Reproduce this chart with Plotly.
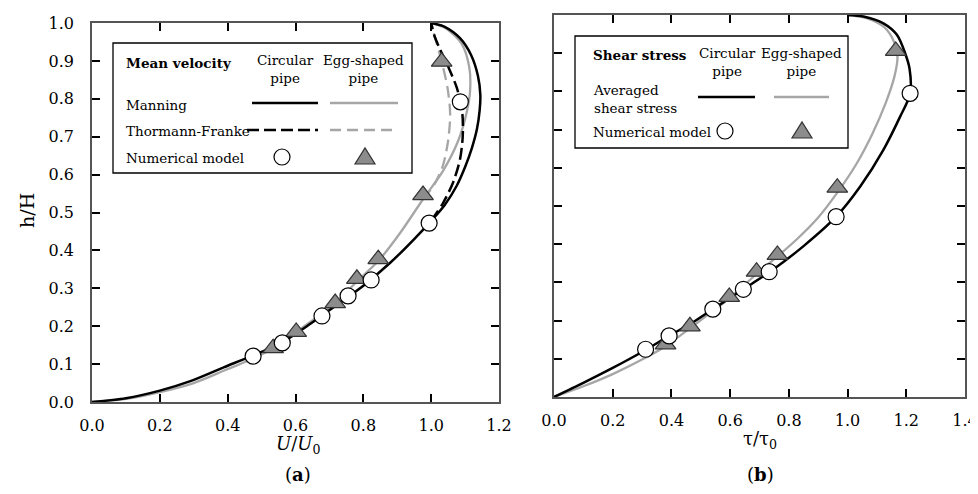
import plotly.graph_objects as go

# ---------------- data ----------------
# Panel (a): mean velocity  U/U0 (x) vs h/H (y)
a_manning_circ_x = [0.000, 0.100, 0.200, 0.290, 0.390, 0.475, 0.560, 0.645, 0.720, 0.800, 0.880, 0.950,
                    1.000, 1.040, 1.075, 1.100, 1.120, 1.135, 1.143, 1.145, 1.138, 1.118, 1.085, 1.040, 1.000]
a_manning_circ_y = [0.000, 0.010, 0.030, 0.055, 0.092, 0.123, 0.157, 0.207, 0.255, 0.307, 0.368, 0.430,
                    0.478, 0.520, 0.570, 0.620, 0.670, 0.720, 0.770, 0.810, 0.860, 0.915, 0.960, 0.990, 1.000]
a_tf_circ_x = [1.000, 1.035, 1.065, 1.085, 1.093, 1.092, 1.076, 1.050, 1.027, 1.010, 1.003, 1.000]
a_tf_circ_y = [0.478, 0.525, 0.580, 0.640, 0.700, 0.760, 0.828, 0.885, 0.929, 0.965, 0.989, 1.000]
a_manning_egg_x = [0.000, 0.100, 0.200, 0.300, 0.390, 0.470, 0.534, 0.602, 0.660, 0.717, 0.781, 0.844,
                   0.910, 0.976, 1.035, 1.080, 1.105, 1.115, 1.112, 1.090, 1.045, 1.000]
a_manning_egg_y = [0.000, 0.008, 0.026, 0.050, 0.083, 0.113, 0.142, 0.185, 0.222, 0.261, 0.318, 0.372,
                   0.448, 0.535, 0.610, 0.690, 0.765, 0.825, 0.885, 0.945, 0.985, 1.000]
a_tf_egg_x = [0.976, 1.010, 1.035, 1.050, 1.056, 1.048, 1.031, 1.015, 1.004, 1.000]
a_tf_egg_y = [0.535, 0.575, 0.625, 0.690, 0.760, 0.830, 0.898, 0.950, 0.985, 1.000]
a_num_circ_x = [0.475, 0.561, 0.678, 0.755, 0.823, 0.994, 1.086]
a_num_circ_y = [0.121, 0.156, 0.227, 0.280, 0.322, 0.472, 0.792]
a_num_egg_x = [0.534, 0.602, 0.717, 0.781, 0.844, 0.976, 1.031]
a_num_egg_y = [0.142, 0.185, 0.261, 0.325, 0.377, 0.546, 0.898]

# Panel (b): shear stress  tau/tau0 (x) vs h/H (y)
b_avg_circ_x = [0.000, 0.100, 0.200, 0.312, 0.392, 0.470, 0.541, 0.645, 0.736, 0.850, 0.961, 1.043,
                1.122, 1.179, 1.213, 1.211, 1.196, 1.168, 1.122, 1.054, 1.000]
b_avg_circ_y = [0.000, 0.037, 0.076, 0.123, 0.160, 0.194, 0.230, 0.282, 0.328, 0.395, 0.472, 0.551,
                0.647, 0.734, 0.793, 0.860, 0.900, 0.948, 0.978, 0.996, 1.000]
b_avg_egg_x = [0.000, 0.100, 0.200, 0.300, 0.380, 0.463, 0.597, 0.690, 0.761, 0.830, 0.900, 0.965,
               1.030, 1.085, 1.130, 1.160, 1.170, 1.158, 1.125, 1.065, 1.000]
b_avg_egg_y = [0.000, 0.028, 0.060, 0.098, 0.133, 0.180, 0.258, 0.322, 0.368, 0.415, 0.470, 0.535,
               0.610, 0.690, 0.770, 0.840, 0.890, 0.930, 0.968, 0.992, 1.000]
b_num_circ_x = [0.312, 0.392, 0.541, 0.645, 0.733, 0.961, 1.213]
b_num_circ_y = [0.125, 0.160, 0.230, 0.282, 0.328, 0.472, 0.795]
b_num_egg_x = [0.380, 0.463, 0.597, 0.690, 0.761, 0.965, 1.164]
b_num_egg_y = [0.138, 0.185, 0.262, 0.328, 0.372, 0.548, 0.906]

a_xticks = [0.0, 0.2, 0.4, 0.6, 0.8, 1.0, 1.2]
b_xticks = [0.0, 0.2, 0.4, 0.6, 0.8, 1.0, 1.2, 1.4]
yticks = [0.0, 0.1, 0.2, 0.3, 0.4, 0.5, 0.6, 0.7, 0.8, 0.9, 1.0]

# ---------------- styling ----------------
# the page body has an 8 px margin, so the figure is drawn 8 px in from the window corner;
# keep the page from overflowing the window vertically
OFF = 8
W, H = 978 - OFF, 494 - 2 * OFF
FONT = "DejaVu Serif"
BLACK = "#000000"
GRAY = "#a6a6a6"
TRI_FILL = "#8c8c8c"


def px(x):
    return (x - OFF) / W


def py(y):
    return 1 - (y - OFF) / H


fig = go.Figure()


def line(x, y, color, dash, xa, ya, width=2.5):
    fig.add_trace(go.Scatter(x=x, y=y, mode="lines", xaxis=xa, yaxis=ya,
                             line=dict(color=color, width=width, dash=dash, shape="spline", smoothing=0.8),
                             showlegend=False, hoverinfo="skip"))


def circles(x, y, xa, ya):
    fig.add_trace(go.Scatter(x=x, y=y, mode="markers", xaxis=xa, yaxis=ya,
                             marker=dict(symbol="circle", size=16, color="white",
                                         line=dict(color="black", width=1.2)),
                             showlegend=False))


def triangles(x, y, xa, ya):
    fig.add_trace(go.Scatter(x=x, y=y, mode="markers", xaxis=xa, yaxis=ya,
                             marker=dict(symbol="triangle-up", size=18, color=TRI_FILL,
                                         line=dict(color="#333333", width=1.2)),
                             showlegend=False))


# panel a
line(a_manning_egg_x, a_manning_egg_y, GRAY, "solid", "x", "y", 2.3)
line(a_tf_egg_x, a_tf_egg_y, GRAY, "12px,6px", "x", "y", 2.3)
line(a_manning_circ_x, a_manning_circ_y, BLACK, "solid", "x", "y", 2.5)
line(a_tf_circ_x, a_tf_circ_y, BLACK, "12px,5px", "x", "y", 2.5)
triangles(a_num_egg_x, a_num_egg_y, "x", "y")
circles(a_num_circ_x, a_num_circ_y, "x", "y")

# panel b
line(b_avg_egg_x, b_avg_egg_y, GRAY, "solid", "x2", "y2", 2.3)
line(b_avg_circ_x, b_avg_circ_y, BLACK, "solid", "x2", "y2", 2.5)
triangles(b_num_egg_x, b_num_egg_y, "x2", "y2")
circles(b_num_circ_x, b_num_circ_y, "x2", "y2")

axis_common = dict(showline=True, linecolor="#555555", linewidth=1.5, mirror="ticks",
                   ticks="inside", ticklen=8, tickwidth=1.5, tickcolor="black",
                   showgrid=False, zeroline=False, tickformat=".1f", automargin=False,
                   ticklabeloverflow="allow",
                   tickfont=dict(family=FONT, size=16, color="black"))

fig.update_layout(
    template="none",
    width=W, height=H, margin=dict(l=0, r=0, t=0, b=0, pad=0, autoexpand=False),
    paper_bgcolor="white", plot_bgcolor="white", showlegend=False,
    xaxis=dict(axis_common, domain=[px(92), px(499)], range=[0, 1.2], tickvals=a_xticks,
               anchor="y", ticklabelstandoff=8),
    yaxis=dict(axis_common, domain=[py(402), py(23)], range=[0, 1], tickvals=yticks,
               anchor="x", ticklabelstandoff=13),
    xaxis2=dict(axis_common, domain=[px(554), px(965)], range=[0, 1.4], tickvals=b_xticks,
                anchor="y2", ticklabelstandoff=8),
    yaxis2=dict(axis_common, domain=[py(397), py(15)], range=[0, 1], tickvals=yticks,
                anchor="x2", showticklabels=False),
)

shapes = []
annotations = []


def text(x, y, s, size=13.5, anchor="left", **kw):
    annotations.append(dict(x=px(x), y=py(y), xref="paper", yref="paper", text=s, showarrow=False,
                            xanchor=anchor, yanchor="middle",
                            font=dict(family=FONT, size=size, color="black"), **kw))


def hline(x0, x1, y, color, dash, width=2.5):
    shapes.append(dict(type="line", xref="paper", yref="paper", x0=px(x0), x1=px(x1),
                       y0=py(y), y1=py(y), line=dict(color=color, width=width, dash=dash)))


def leg_circle(x, y):
    shapes.append(dict(type="circle", xref="paper", yref="paper", xsizemode="pixel",
                       ysizemode="pixel", xanchor=px(x), yanchor=py(y),
                       x0=-8, x1=8, y0=-8, y1=8, fillcolor="white",
                       line=dict(color="black", width=1.2)))


def leg_triangle(x, y):
    shapes.append(dict(type="path", xref="paper", yref="paper", xsizemode="pixel",
                       ysizemode="pixel", xanchor=px(x), yanchor=py(y),
                       path="M -10,-7 L 10,-7 L 0,9 Z", fillcolor=TRI_FILL,
                       line=dict(color="#333333", width=1.2)))


# legend box (a)
shapes.append(dict(type="rect", xref="paper", yref="paper", x0=px(113), x1=px(412),
                   y0=py(173), y1=py(43), line=dict(color="black", width=1.3),
                   fillcolor="white", layer="below"))
text(124, 63, "<b>Mean velocity</b>")
text(285, 69, "Circular<br>pipe", anchor="center")
text(363, 69, "Egg-shaped<br>pipe", anchor="center")
text(124, 105, "Manning")
text(124, 131, "Thormann-Franke")
text(124, 158, "Numerical model")
hline(252, 318, 103, BLACK, "solid", 2.6)
hline(330, 398, 103, GRAY, "solid", 2.4)
hline(247, 318, 130, BLACK, "12px,5px", 2.6)
hline(330, 398, 130, GRAY, "11px,6px", 2.4)
leg_circle(282, 157)
leg_triangle(365, 157)

# legend box (b)
shapes.append(dict(type="rect", xref="paper", yref="paper", x0=px(575), x1=px(848),
                   y0=py(148), y1=py(36), line=dict(color="black", width=1.3),
                   fillcolor="white", layer="below"))
text(591, 55, "<b>Shear stress</b>")
text(727, 62, "Circular<br>pipe", anchor="center")
text(801, 62, "Egg-shaped<br>pipe", anchor="center")
text(591, 99, "Averaged<br>shear stress", align="left")
text(591, 132, "Numerical model")
hline(698, 755, 97, BLACK, "solid", 2.6)
hline(774, 829, 97, GRAY, "solid", 2.4)
leg_circle(725, 131)
leg_triangle(802, 131)

# axis titles and panel labels
text(27, 211, "h/H", size=19, anchor="center", textangle=-90)
text(298, 445, "<i>U</i>/<i>U</i><sub>0</sub>", size=18, anchor="center")
text(298, 474, "(<b>a</b>)", size=18, anchor="center")
text(760, 440, "τ/τ<sub>0</sub>", size=18, anchor="center")
text(760, 474, "(<b>b</b>)", size=18, anchor="center")

fig.update_layout(shapes=shapes, annotations=annotations)
fig.write_html("out.html")
